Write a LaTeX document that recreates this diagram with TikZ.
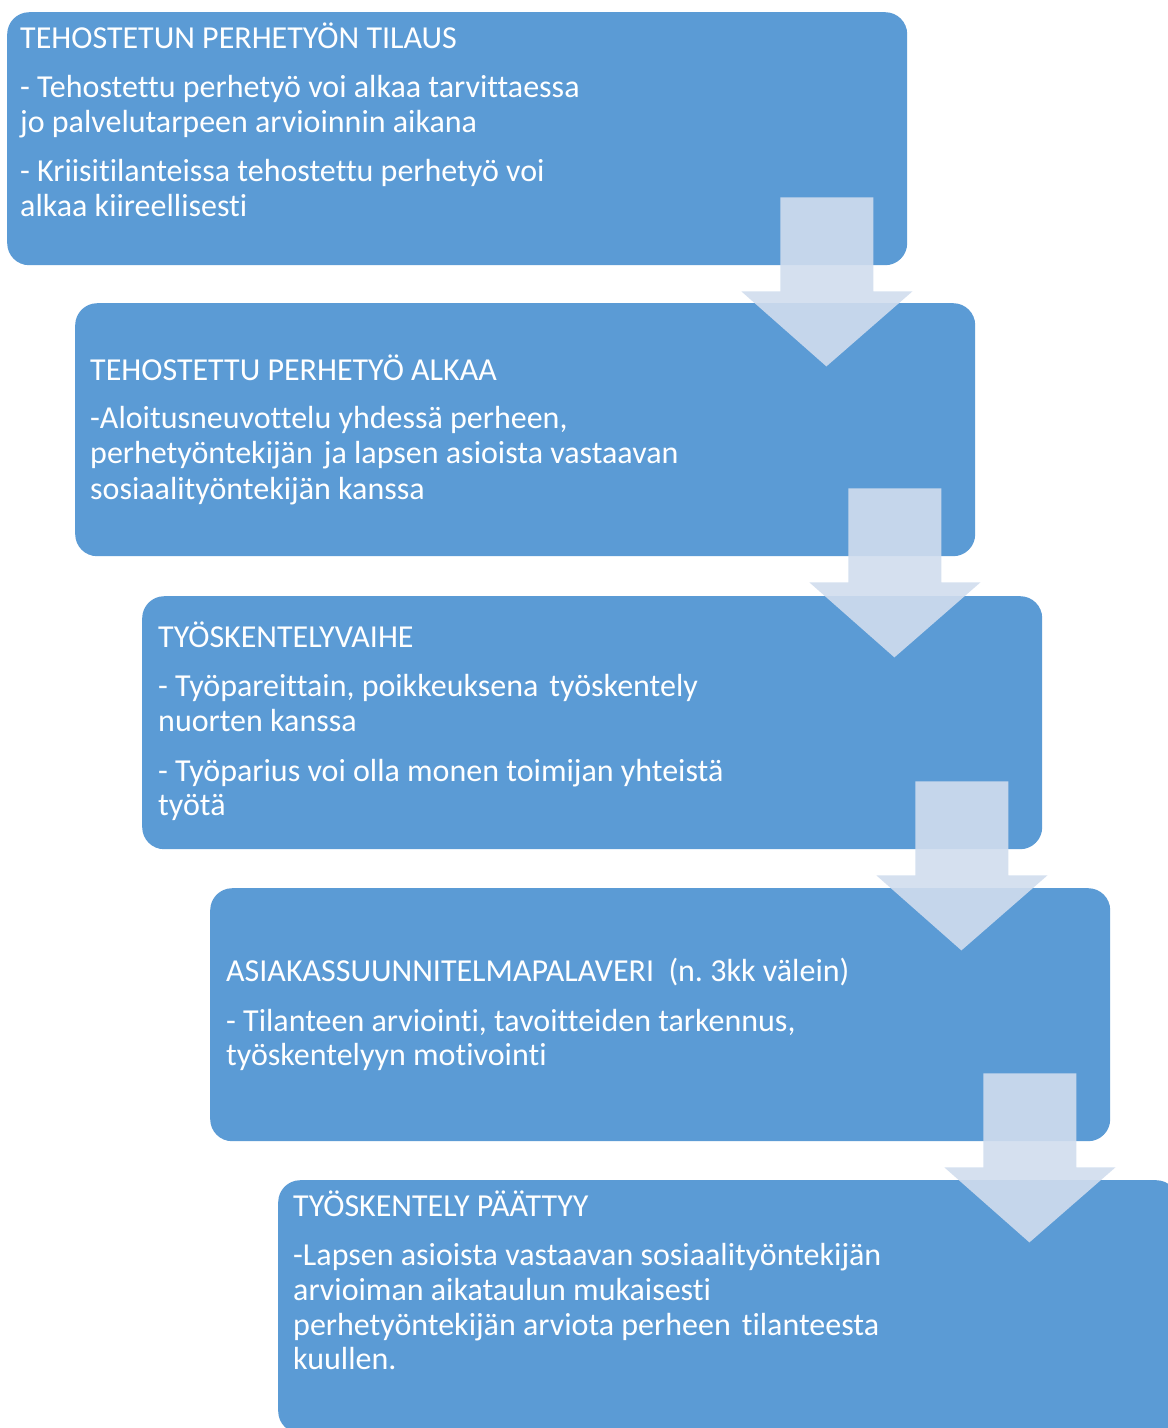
\documentclass[tikz,border=0pt]{standalone}
\usepackage{fontspec}
\setmainfont{Carlito}[Ligatures=CommonOff]
\usetikzlibrary{calc}
\definecolor{stageblue}{RGB}{91,155,213}
\definecolor{arrowfill}{RGB}{209,221,238}
\frenchspacing

% block arrow hanging from the lower right corner of a stage box
\newcommand{\flowdown}[1]{%
  \begin{scope}[shift={(#1.south east)}]
    \fill[flowarrow] (-127,-68) -- (-34,-68) -- (-34,26) -- (5,26)
      -- (-81,101) -- (-166,26) -- (-127,26) -- cycle;
  \end{scope}}
% slightly widened word gap
\newcommand{\wgap}{\ \hspace{0.12em}}

\begin{document}
\begin{tikzpicture}[x=1pt,y=-1pt,
  stagebox/.style={fill=stageblue, draw=none, rounded corners=22pt,
    minimum width=900pt, minimum height=253pt, anchor=north west, inner sep=0pt},
  linetext/.style={text=white, anchor=base west, inner sep=0pt,
    font=\fontsize{32}{35}\selectfont},
  flowarrow/.style={fill=arrowfill, fill opacity=0.9, draw=none}]
\useasboundingbox (0,0) rectangle (1168,1428);
\clip (0,0) rectangle (1168,1428);
\fill[white] (0,0) rectangle (1168,1428);

% stage boxes, stepping down to the right
\node[stagebox] (b1) at (7,12) {};
\node[stagebox] (b2) at (75,303) {};
\node[stagebox] (b3) at (142,596) {};
\node[stagebox] (b4) at (210,888) {};
\node[stagebox] (b5) at (278,1180) {};

% arrows between consecutive stages
\flowdown{b1}
\flowdown{b2}
\flowdown{b3}
\flowdown{b4}

% stage 1
\node[linetext] (t1a) at (20,48) {TEHOSTETUN PERHETYÖN TILAUS};
\node[linetext] (t1b) at (20,97) {- Tehostettu perhetyö voi alkaa tarvittaessa};
\node[linetext] (t1c) at (20,132) {jo palvelutarpeen arvioinnin aikana};
\node[linetext] (t1d) at (20,181) {- Kriisitilanteissa tehostettu perhetyö voi};
\node[linetext] (t1e) at (20,216) {alkaa kiireellisesti};

% stage 2
\node[linetext] (t2a) at (90,380) {TEHOSTETTU PERHETYÖ ALKAA};
\node[linetext] (t2b) at (90,428) {-Aloitusneuvottelu yhdessä perheen,};
\node[linetext] (t2c) at (90,463) {perhetyöntekijän\wgap ja lapsen asioista vastaavan};
\node[linetext] (t2d) at (90,499) {sosiaalityöntekijän kanssa};

% stage 3
\node[linetext] (t3a) at (158,647) {TYÖSKENTELYVAIHE};
\node[linetext] (t3b) at (158,696) {- Työpareittain, poikkeuksena\wgap työskentely};
\node[linetext] (t3c) at (158,731) {nuorten kanssa};
\node[linetext] (t3d) at (158,781) {- Työparius voi olla monen toimijan yhteistä};
\node[linetext] (t3e) at (158,815) {työtä};

% stage 4
\node[linetext] (t4a) at (226,981) {ASIAKASSUUNNITELMAPALAVERI\ \ (n. 3kk välein)};
\node[linetext] (t4b) at (226,1031) {- Tilanteen arviointi, tavoitteiden tarkennus,};
\node[linetext] (t4c) at (226,1065) {työskentelyyn motivointi};

% stage 5
\node[linetext] (t5a) at (293,1216) {TYÖSKENTELY PÄÄTTYY};
\node[linetext] (t5b) at (293,1265) {-Lapsen asioista vastaavan sosiaalityöntekijän};
\node[linetext] (t5c) at (293,1300) {arvioiman aikataulun mukaisesti};
\node[linetext] (t5d) at (293,1335) {perhetyöntekijän arviota perheen\wgap tilanteesta};
\node[linetext] (t5e) at (293,1369) {kuullen.};
\end{tikzpicture}
\end{document}
